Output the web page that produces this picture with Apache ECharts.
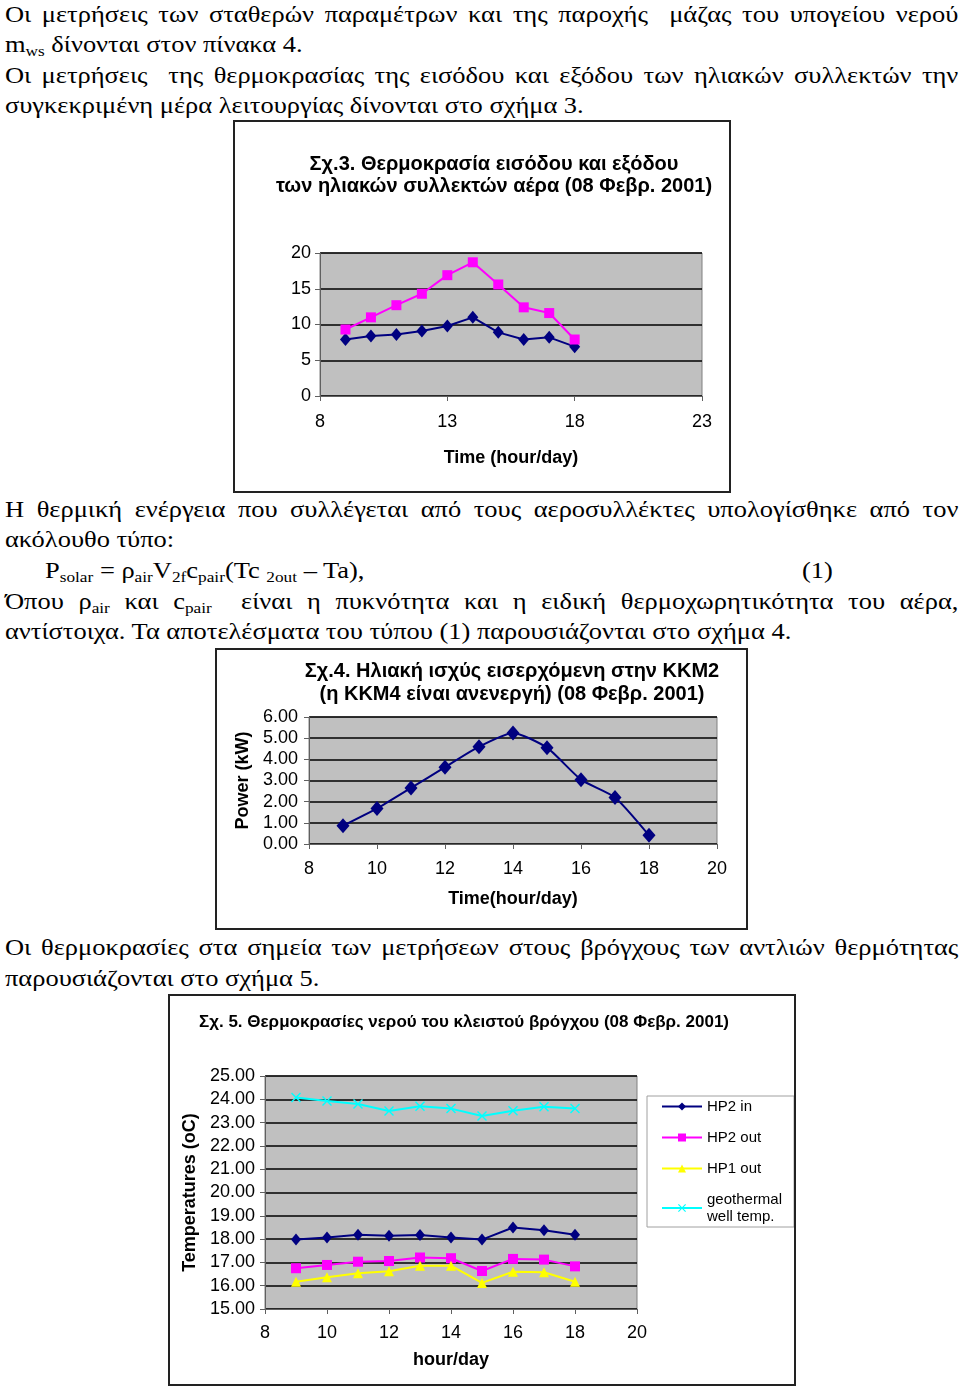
<!DOCTYPE html>
<html>
<head>
<meta charset="utf-8">
<script src="https://cdn.jsdelivr.net/npm/echarts@6/dist/echarts.min.js"></script>
<style>
  body { margin: 0; width: 960px; height: 1389px; position: relative; background: #fff; overflow: hidden; }
  .ln {
    position: absolute; left: 5px; width: 829px;
    font-family: "Liberation Serif", "Times New Roman", serif;
    font-size: 23px; line-height: 30px; color: #000;
    transform: scaleX(1.15); transform-origin: 0 0;
  }
  .j { text-align: justify; text-align-last: justify; }
  .ln sub { font-size: 15px; vertical-align: -4px; line-height: 0; }
  .box { position: absolute; border: 2px solid #222; background: #fff; box-sizing: border-box; }
  .chart { width: 100%; height: 100%; }
</style>
</head>
<body>
<div class="ln j" style="top:0">Οι μετρήσεις των σταθερών παραμέτρων και της παροχής &nbsp;μάζας του υπογείου νερού</div>
<div class="ln" style="top:30px">m<sub>ws</sub> δίνονται στον πίνακα 4.</div>
<div class="ln j" style="top:61px">Οι μετρήσεις &nbsp;της θερμοκρασίας της εισόδου και εξόδου των ηλιακών συλλεκτών την</div>
<div class="ln" style="top:91px">συγκεκριμένη μέρα λειτουργίας δίνονται στο σχήμα 3.</div>

<div class="box" style="left:233px;top:120px;width:498px;height:373px"><div class="chart" id="c3"></div></div>

<div class="ln j" style="top:495px">Η θερμική ενέργεια που συλλέγεται από τους αεροσυλλέκτες υπολογίσθηκε από τον</div>
<div class="ln" style="top:525px">ακόλουθο τύπο:</div>
<div class="ln" style="top:556px;left:45px;width:auto">P<sub>solar</sub> = ρ<sub>air</sub>V<sub>2f</sub>c<sub>pair</sub>(Tc <sub>2out</sub> – Ta),</div>
<div class="ln" style="top:556px;left:802px;width:auto">(1)</div>
<div class="ln j" style="top:587px">Όπου ρ<sub>air</sub> και c<sub>pair</sub> &nbsp;είναι η πυκνότητα και η ειδική θερμοχωρητικότητα του αέρα,</div>
<div class="ln" style="top:617px">αντίστοιχα. Τα αποτελέσματα του τύπου (1) παρουσιάζονται στο σχήμα 4.</div>

<div class="box" style="left:215px;top:648px;width:533px;height:282px"><div class="chart" id="c4"></div></div>

<div class="ln j" style="top:933px">Οι θερμοκρασίες στα σημεία των μετρήσεων στους βρόγχους των αντλιών θερμότητας</div>
<div class="ln" style="top:964px">παρουσιάζονται στο σχήμα 5.</div>

<div class="box" style="left:168px;top:994px;width:628px;height:392px"><div class="chart" id="c5"></div></div>

<script>
// ώρες μετρήσεων
const hours = [9, 10, 11, 12, 13, 14, 15, 16, 17, 18]

// Σχ.3 θερμοκρασία εισόδου / εξόδου συλλεκτών
const collectorIn = [7.9, 8.4, 8.6, 9.1, 9.8, 11.0, 8.9, 7.9, 8.2, 6.9]
const collectorOut = [9.3, 11.0, 12.7, 14.3, 16.9, 18.7, 15.6, 12.4, 11.6, 7.9]
const fig3XTicks = [8, 13, 18, 23]

// Σχ.4 ηλιακή ισχύς (kW)
const solarPower = [0.86, 1.68, 2.65, 3.63, 4.6, 5.25, 4.55, 3.04, 2.2, 0.41]

// Σχ.5 θερμοκρασίες νερού κλειστού βρόγχου
const hp2In = [17.98, 18.07, 18.19, 18.14, 18.18, 18.07, 17.98, 18.5, 18.38, 18.19]
const hp2Out = [16.75, 16.89, 17.03, 17.06, 17.21, 17.18, 16.63, 17.15, 17.12, 16.83]
const hp1Out = [16.17, 16.36, 16.53, 16.62, 16.86, 16.86, 16.12, 16.6, 16.58, 16.17]
const geoWell = [24.08, 23.93, 23.8, 23.5, 23.7, 23.6, 23.28, 23.51, 23.68, 23.61]
const fig5Names = ["HP2 in", "HP2 out", "HP1 out", "geothermal\nwell temp."]

const FONT = "Liberation Sans, Arial, sans-serif"
const X_SYMBOL = "path://M0,1L1,0L5,4L9,0L10,1L6,5L10,9L9,10L5,6L1,10L0,9L4,5Z"

const pairs = (ys) => hours.map((h, i) => [h, ys[i]])

const titleText = (x, y, text, size) => ({
  type: "text",
  x: x,
  y: y,
  style: { text: text, font: "bold " + size + "px " + FONT, fill: "#000", textAlign: "center", textVerticalAlign: "middle" },
})

const valueAxis = (o) => ({
  type: "value",
  min: o.min,
  max: o.max,
  interval: o.interval,
  name: o.name,
  nameLocation: "middle",
  nameGap: o.nameGap,
  nameRotate: o.nameRotate,
  nameTextStyle: { fontFamily: FONT, fontWeight: "bold", fontSize: 18, color: "#000" },
  axisLine: { show: true, lineStyle: { color: "#606060", width: 1 } },
  axisTick: { show: true, inside: false, length: 5, lineStyle: { color: "#606060" } },
  axisLabel: { fontFamily: FONT, fontSize: 18, color: "#000", margin: o.margin, formatter: o.formatter },
  splitLine: { show: o.split, lineStyle: { color: "#000", width: 1.5 } },
})

const lineSeries = (name, data, color, symbol, size, extra) => Object.assign({
  name: name,
  type: "line",
  data: pairs(data),
  symbol: symbol,
  symbolSize: size,
  lineStyle: { color: color, width: 2 },
  itemStyle: { color: color },
  z: 5,
}, extra || {})

const gridBox = (left, top, width, height) => ({
  left: left, top: top, width: width, height: height,
  show: true, backgroundColor: "#c0c0c0", borderColor: "#808080", borderWidth: 1,
})

// ---------- Σχ.3 ----------
const c3 = echarts.init(document.getElementById("c3"))
c3.setOption({
  animation: false,
  graphic: [
    titleText(259, 42, "Σχ.3. Θερμοκρασία εισόδου και εξόδου", 20),
    titleText(259, 64, "των ηλιακών συλλεκτών αέρα (08 Φεβρ. 2001)", 20),
  ],
  grid: gridBox(85, 131, 382, 143),
  xAxis: valueAxis({ min: fig3XTicks[0], max: fig3XTicks[fig3XTicks.length - 1], interval: 5, name: "Time (hour/day)", nameGap: 53, margin: 17, split: false }),
  yAxis: valueAxis({ min: 0, max: 20, interval: 5, margin: 9, split: true }),
  series: [
    lineSeries("in", collectorIn, "#000080", "diamond", [11, 13]),
    lineSeries("out", collectorOut, "#ff00ff", "rect", 10),
  ],
})

// ---------- Σχ.4 ----------
const c4 = echarts.init(document.getElementById("c4"))
c4.setOption({
  animation: false,
  graphic: [
    titleText(295, 21, "Σχ.4. Ηλιακή ισχύς εισερχόμενη στην ΚΚΜ2", 20),
    titleText(295, 44, "(η ΚΚΜ4 είναι ανενεργή) (08 Φεβρ. 2001)", 20),
  ],
  grid: gridBox(92, 67, 408, 127),
  xAxis: valueAxis({ min: 8, max: 20, interval: 2, name: "Time(hour/day)", nameGap: 46, margin: 16, split: false }),
  yAxis: valueAxis({ min: 0, max: 6, interval: 1, name: "Power (kW)", nameGap: 54, nameRotate: 90, margin: 11, split: true, formatter: (v) => v.toFixed(2) }),
  series: [
    lineSeries("power", solarPower, "#000080", "diamond", [13, 15], { smooth: 0.2 }),
  ],
})

// ---------- Σχ.5 ----------
const c5 = echarts.init(document.getElementById("c5"))
c5.setOption({
  animation: false,
  graphic: [
    titleText(294, 26, "Σχ. 5. Θερμοκρασίες νερού του κλειστού βρόγχου (08 Φεβρ. 2001)", 17),
  ],
  grid: gridBox(95, 80, 372, 233),
  legend: {
    orient: "vertical",
    left: 477,
    top: 100,
    width: 130,
    padding: [2, 12, 2, 14],
    itemGap: 14,
    itemWidth: 40,
    itemHeight: 10,
    backgroundColor: "#fff",
    borderColor: "#a0a0a0",
    borderWidth: 1,
    textStyle: { fontFamily: FONT, fontSize: 15, color: "#000", lineHeight: 17 },
    data: fig5Names,
  },
  xAxis: valueAxis({ min: 8, max: 20, interval: 2, name: "hour/day", nameGap: 42, margin: 15, split: false }),
  yAxis: valueAxis({ min: 15, max: 25, interval: 1, name: "Temperatures (oC)", nameGap: 63, nameRotate: 90, margin: 10, split: true, formatter: (v) => v.toFixed(2) }),
  series: [
    lineSeries(fig5Names[0], hp2In, "#000080", "diamond", [10, 12]),
    lineSeries(fig5Names[1], hp2Out, "#ff00ff", "rect", 10),
    lineSeries(fig5Names[2], hp1Out, "#ffff00", "triangle", 10),
    lineSeries(fig5Names[3], geoWell, "#00ffff", X_SYMBOL, 10),
  ],
})
</script>
</body>
</html>
